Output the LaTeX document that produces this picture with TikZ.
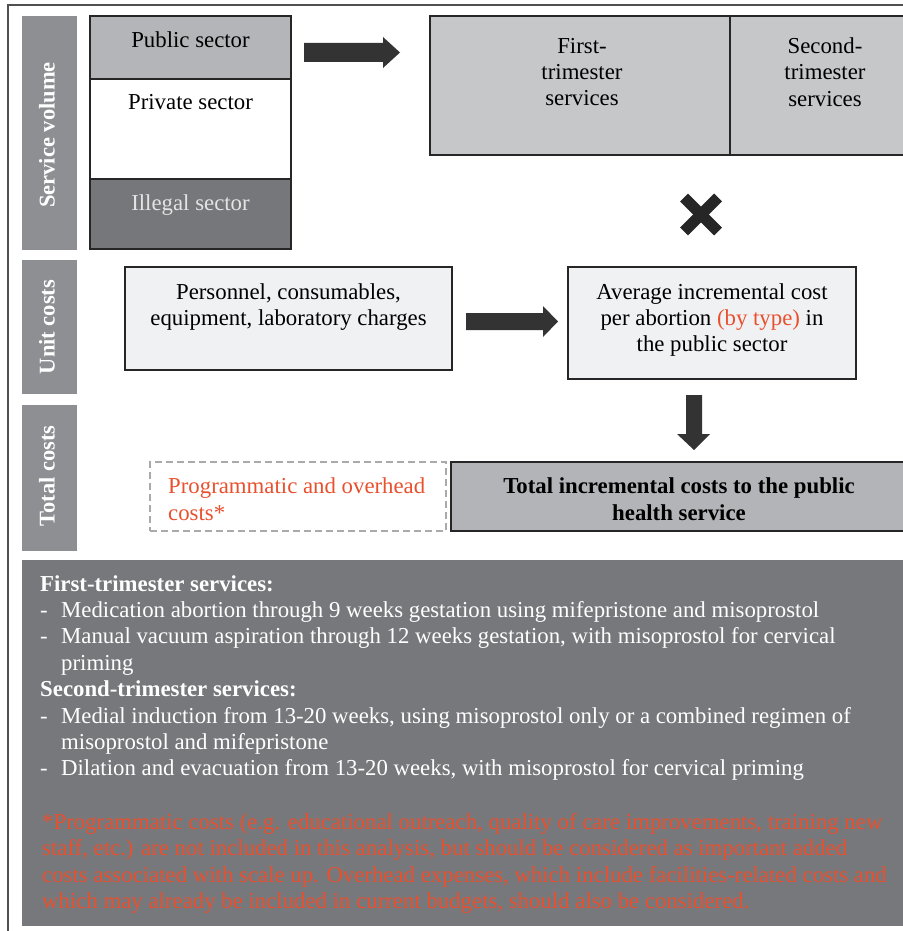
\documentclass[tikz,border=0pt]{standalone}
\usepackage{fontspec}
\setmainfont{Liberation Serif}
\definecolor{sidegray}{HTML}{8E8F93}
\definecolor{pubgray}{HTML}{B4B5B8}
\definecolor{illgray}{HTML}{76777B}
\definecolor{trigray}{HTML}{C6C7C9}
\definecolor{lightbox}{HTML}{F0F1F3}
\definecolor{totgray}{HTML}{B3B4B7}
\definecolor{panelgray}{HTML}{77787C}
\definecolor{redtxt}{HTML}{E8502E}
\definecolor{arrowc}{HTML}{333333}
\definecolor{edgec}{HTML}{262626}
\definecolor{framec}{HTML}{505050}
\definecolor{dashc}{HTML}{AAAAAA}
\definecolor{illtxt}{HTML}{E4E4E4}
\tikzset{
  body/.style={font=\fontsize{22.8}{26.4}\selectfont},
  sidelabel/.style={fill=sidegray, draw=none, inner sep=0},
  sidetext/.style={rotate=90, text=white, font=\fontsize{22.5}{26}\selectfont\bfseries, inner sep=0},
  boxframe/.style={draw=edgec, line width=1.6pt, inner sep=0},
  txt/.style={body, align=center, inner sep=0},
  blockarrow/.style={fill=arrowc, draw=none},
}
\begin{document}
\begin{tikzpicture}[x=1pt,y=-1pt]
\useasboundingbox (0,0) rectangle (902,931);
% outer frame
\draw[framec, line width=1.4pt] (8,931) -- (8,5) -- (905,5);

% side labels
\node[sidelabel, minimum width=55, minimum height=234] (svbox) at (49.5,133) {};
\node[sidetext] (svtext) at (47,135) {Service volume};
\node[sidelabel, minimum width=55, minimum height=134] (ucbox) at (49.5,327) {};
\node[sidetext] (uctext) at (47,327) {Unit costs};
\node[sidelabel, minimum width=55, minimum height=146] (tcbox) at (49.5,478) {};
\node[sidetext] (tctext) at (47,476) {Total costs};

% sector stack
\node[boxframe, fill=pubgray, minimum width=201, minimum height=63] (pub) at (190.5,47.5) {};
\node[boxframe, fill=white, minimum width=201, minimum height=100] (priv) at (190.5,129) {};
\node[boxframe, fill=illgray, minimum width=201, minimum height=70] (ill) at (190.5,214) {};
\node[txt] (pubt) at (190.5,39.5) {Public sector};
\node[txt] (privt) at (190.5,102.5) {Private sector};
\node[txt, text=illtxt] (illt) at (190.5,205) {Illegal sector};

% trimester boxes
\node[boxframe, fill=trigray, minimum width=300, minimum height=139] (first) at (580,85.5) {};
\node[boxframe, fill=trigray, minimum width=190, minimum height=139] (second) at (825,85.5) {};
\node[txt] (firstt) at (582,72) {First-\\trimester\\services};
\node[txt] (secondt) at (825,72) {Second-\\trimester\\services};

% arrow sector -> trimester
\fill[blockarrow] (304,43) -- (383,43) -- (383,37) -- (400,52.5) -- (383,68) -- (383,62) -- (304,62) -- cycle;

% times sign
\node[inner sep=0, minimum size=42] (times) at (701,214.5) {};
\draw[edgec, line width=11pt] ([shift={(-17,-17)}]times.center) -- ([shift={(17,17)}]times.center);
\draw[edgec, line width=11pt] ([shift={(-17,17)}]times.center) -- ([shift={(17,-17)}]times.center);

% unit cost boxes
\node[boxframe, fill=lightbox, minimum width=327, minimum height=103] (pers) at (288.5,318.5) {};
\node[txt] (perst) at (288.5,307) {Personnel, consumables,\\equipment, laboratory charges};
\node[boxframe, fill=lightbox, minimum width=288, minimum height=112] (avg) at (712,323) {};
\node[txt] (avgt) at (712,320) {Average incremental cost\\per abortion \textcolor{redtxt}{(by type)} in\\the public sector};

% arrow pers -> avg
\fill[blockarrow] (466,313) -- (543,313) -- (543,306) -- (558,321.5) -- (543,337) -- (543,330) -- (466,330) -- cycle;

% down arrow avg -> total
\fill[blockarrow] (686,395) -- (702,395) -- (702,434) -- (710,434) -- (694,450) -- (677,434) -- (686,434) -- cycle;

% total row
\node[draw=dashc, dashed, dash pattern=on 7pt off 4pt, line width=1.4pt, minimum width=296, minimum height=69, inner sep=0] (prog) at (298,496.5) {};
\node[body, text=redtxt, align=left, inner sep=0, anchor=west] (progt) at (168,499) {Programmatic and overhead\\costs*};
\node[boxframe, fill=totgray, minimum width=456, minimum height=69] (total) at (679,496.5) {};
\node[txt, font=\fontsize{22.8}{26.4}\selectfont\bfseries] (totalt) at (679,499) {Total incremental costs to the public\\health service};

% bottom panel
\node[fill=panelgray, minimum width=885, minimum height=366, inner sep=0, anchor=north west] (panel) at (22,560) {};
\node[body, text=white, align=left, inner sep=0, anchor=north west] (panelt) at (40,575) {%
\textbf{First-trimester services:}\\
\makebox[21pt][l]{-}Medication abortion through 9 weeks gestation using mifepristone and misoprostol\\
\makebox[21pt][l]{-}Manual vacuum aspiration through 12 weeks gestation, with misoprostol for cervical\\
\makebox[21pt][l]{}priming\\
\textbf{Second-trimester services:}\\
\makebox[21pt][l]{-}Medial induction from 13-20 weeks, using misoprostol only or a combined regimen of\\
\makebox[21pt][l]{}misoprostol and mifepristone\\
\makebox[21pt][l]{-}Dilation and evacuation from 13-20 weeks, with misoprostol for cervical priming};
\node[body, text=redtxt, align=left, inner sep=0, anchor=north west] (notet) at (42,813) {%
*Programmatic costs (e.g. educational outreach, quality of care improvements, training new\\
staff, etc.) are not included in this analysis, but should be considered as important added\\
costs associated with scale up. Overhead expenses, which include facilities-related costs and\\
which may already be included in current budgets, should also be considered.};
\end{tikzpicture}
\end{document}
